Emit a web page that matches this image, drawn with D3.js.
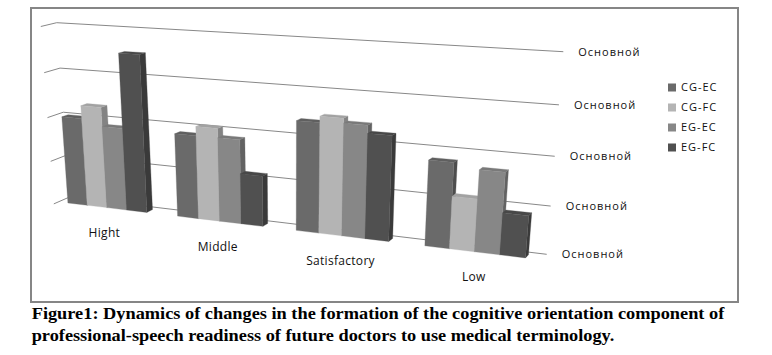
<!DOCTYPE html>
<html>
<head>
<meta charset="utf-8">
<script src="https://cdn.jsdelivr.net/npm/d3@7"></script>
<style>
    body { margin: 0; background: #fff; }
    .cat-label, .val-label, .legend text { font-family: "Open Sans", sans-serif; font-size: 11px; fill: #111; }
    .cat-label { font-size: 12px; letter-spacing: 0.3px; }
    .val-label, .legend text { letter-spacing: 1px; }
    .caption { font-family: "Liberation Serif", "Times New Roman", serif; font-weight: bold; font-size: 17px; fill: #000; }
</style>
</head>
<body>
<svg width="772" height="355"></svg>
<script>
// Chart data
const categories = ["Hight", "Middle", "Satisfactory", "Low"];
const seriesNames = ["CG-EC", "CG-FC", "EG-EC", "EG-FC"];
const cgEc = [20.0, 18.5, 23.6, 17.9];
const cgFc = [22.9, 20.5, 24.9, 11.0];
const egEc = [18.6, 18.5, 23.9, 16.9];
const egFc = [35.0, 11.1, 22.2, 8.7];
const tickValues = [0, 10, 20, 30, 40];
const tickLabel = "Основной";
const colors = ["#6a6a6a", "#b4b4b4", "#878787", "#505050"];
const captionLines = [
    "Figure1: Dynamics of changes in the formation of the cognitive orientation component of",
    "professional-speech readiness of future doctors to use medical terminology."
];

const series = [cgEc, cgFc, egEc, egFc];

const svg = d3.select("svg");

// Outer frame
svg.append("rect")
    .attr("x", 31).attr("y", 8)
    .attr("width", 707).attr("height", 294)
    .attr("fill", "none")
    .attr("stroke", "#868686")
    .attr("stroke-width", 2);

// Back wall corners on screen: (u,v) = (0,0),(1,0),(1,1),(0,1)
const quad = [[69.5, 197], [546.7, 254.3], [563.3, 51.7], [56.7, 22.7]];

// Homography unit square -> quad
const [p0, p1, p2, p3] = quad;
const dx1 = p1[0] - p2[0], dx2 = p3[0] - p2[0], dx3 = p0[0] - p1[0] + p2[0] - p3[0];
const dy1 = p1[1] - p2[1], dy2 = p3[1] - p2[1], dy3 = p0[1] - p1[1] + p2[1] - p3[1];
const den = dx1 * dy2 - dx2 * dy1;
const hg = (dx3 * dy2 - dx2 * dy3) / den;
const hh = (dx1 * dy3 - dx3 * dy1) / den;
const ha = p1[0] - p0[0] + hg * p1[0], hb = p3[0] - p0[0] + hh * p3[0], hc = p0[0];
const hd = p1[1] - p0[1] + hg * p1[1], he = p3[1] - p0[1] + hh * p3[1], hf = p0[1];

function wall(u, v) {
    const w = 1 + hg * u + hh * v;
    return [(ha * u + hb * v + hc) / w, (hd * u + he * v + hf) / w];
}

// depth: z = 0 back wall, z = 1 front of floor
const VP = [950, -190], K = 0.0178;
function proj(u, v, z) {
    const [x, y] = wall(u, v);
    const k = 1 + K * z;
    return [VP[0] + k * (x - VP[0]), VP[1] + k * (y - VP[1])];
}

// Scales
const y = d3.scaleLinear().domain([0, 40]).range([0, 1]);
const x0 = d3.scaleBand().domain(categories).range([-0.012, 1.006])
    .paddingInner(1.5 / 5.5).paddingOuter(0.75 / 5.5);
const x1 = d3.scaleBand().domain(seriesNames).range([0, x0.bandwidth()]);

const line = d3.line();
const g = svg.append("g");

// Gridlines on back wall and left side wall
tickValues.forEach(t => {
    const v = y(t);
    g.append("path")
        .attr("d", line([proj(0, v, 1), proj(0, v, 0), wall(1, v)]))
        .attr("fill", "none")
        .attr("stroke", "#888")
        .attr("stroke-width", 1);
    const end = wall(1, v);
    g.append("text")
        .attr("class", "val-label")
        .attr("x", end[0] + 15)
        .attr("y", end[1])
        .attr("dy", "0.35em")
        .text(tickLabel);
});

// Bars, drawn left to right: side, top, front
const zF = 0.7, zB = 0.3;
categories.forEach((cat, i) => {
    seriesNames.forEach((s, j) => {
        const uL = x0(cat) + x1(s), uR = uL + x1.bandwidth();
        const v = y(series[j][i]);
        const c = d3.color(colors[j]);
        const faces = [
            { pts: [proj(uR, 0, zF), proj(uR, 0, zB), proj(uR, v, zB), proj(uR, v, zF)], fill: c.darker(0.9) },
            { pts: [proj(uL, v, zF), proj(uR, v, zF), proj(uR, v, zB), proj(uL, v, zB)], fill: c.darker(0.3) },
            { pts: [proj(uL, 0, zF), proj(uR, 0, zF), proj(uR, v, zF), proj(uL, v, zF)], fill: c }
        ];
        faces.forEach(f => {
            g.append("path")
                .attr("d", line(f.pts) + "Z")
                .attr("fill", f.fill)
                .attr("stroke", f.fill)
                .attr("stroke-width", 0.3);
        });
    });
    // Category label under the floor
    const pos = proj(x0(cat) + x0.bandwidth() / 2, 0, 1);
    g.append("text")
        .attr("class", "cat-label")
        .attr("x", pos[0] + 2)
        .attr("y", pos[1] + 23)
        .attr("dy", "0.35em")
        .attr("text-anchor", "middle")
        .text(cat);
});

// Legend
const legend = svg.selectAll(".legend")
    .data(seriesNames)
    .enter().append("g")
    .attr("class", "legend")
    .attr("transform", (d, i) => `translate(668,${87.5 + i * 20})`);

legend.append("rect")
    .attr("x", 0).attr("y", -4)
    .attr("width", 8).attr("height", 8)
    .attr("fill", (d, i) => colors[i]);

legend.append("text")
    .attr("x", 13)
    .attr("dy", "0.35em")
    .text(d => d);

// Caption
const capWidths = [692.6, 582.6];
captionLines.forEach((t, i) => {
    svg.append("text")
        .attr("class", "caption")
        .attr("x", 31.7)
        .attr("y", 319 + i * 22)
        .attr("textLength", capWidths[i])
        .attr("lengthAdjust", "spacingAndGlyphs")
        .text(t);
});
</script>
</body>
</html>
